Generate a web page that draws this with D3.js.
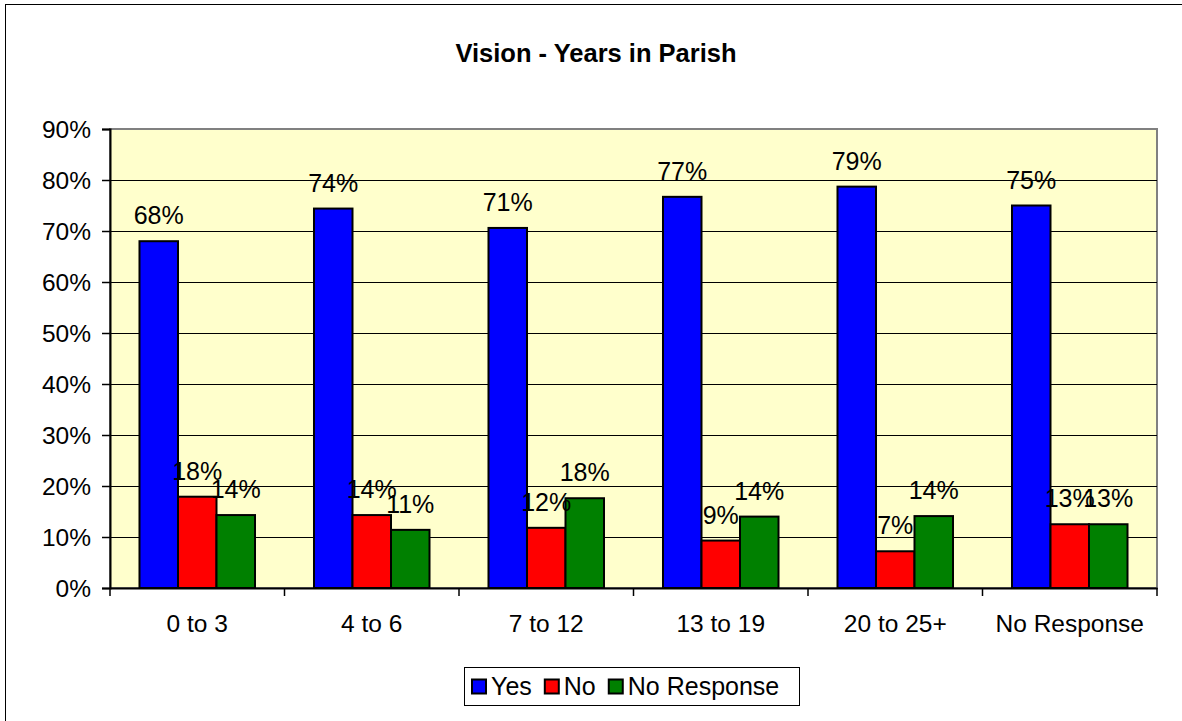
<!DOCTYPE html>
<html><head><meta charset="utf-8">
<script src="https://cdn.jsdelivr.net/npm/d3@7"></script>
<style>
html,body{margin:0;padding:0;background:#fff;}
svg{display:block;font-family:"Liberation Sans",Arial,sans-serif;}
</style></head>
<body>
<svg id="chart" width="1182" height="721"></svg>
<script>
const categories = ["0 to 3","4 to 6","7 to 12","13 to 19","20 to 25+","No Response"];
const seriesNames = ["Yes","No","No Response"];
const yesValues = [0.68,0.744,0.706,0.767,0.787,0.75];
const noValues = [0.179,0.143,0.118,0.093,0.072,0.125];
const noResponseValues = [0.143,0.114,0.176,0.140,0.141,0.125];
const yTicks = [0,0.1,0.2,0.3,0.4,0.5,0.6,0.7,0.8,0.9];
const colors = ["#0000FF","#FF0000","#008000"];
const title = "Vision - Years in Parish";

const seriesValues = [yesValues, noValues, noResponseValues];
const svg = d3.select("#chart");

svg.append("rect").attr("x",5.5).attr("y",4.5).attr("width",1200).attr("height",740)
  .attr("fill","#fff").attr("stroke","#000").attr("stroke-width",1);

const L=110, R=1157, T=129, B=588;
const x0 = d3.scaleBand().domain(categories).range([L,R]).padding(0);
const x1 = d3.scaleBand().domain(seriesNames).range([0,x0.bandwidth()]).paddingInner(0).paddingOuter(0.766);
const y = d3.scaleLinear().domain([0,0.9]).range([B,T]);

svg.append("rect").attr("x",L).attr("y",T).attr("width",R-L).attr("height",B-T)
  .attr("fill","#FFFFCC").attr("stroke","#808080").attr("stroke-width",2);

svg.append("g").selectAll("line").data(yTicks.filter(t=>t>0 && t<0.9)).join("line")
  .attr("x1",L).attr("x2",R).attr("y1",d=>Math.round(y(d))+0.5).attr("y2",d=>Math.round(y(d))+0.5)
  .attr("stroke","#000").attr("stroke-width",1);

const groups = svg.append("g").selectAll("g").data(categories).join("g")
  .attr("transform",d=>`translate(${x0(d)},0)`);
groups.selectAll("rect").data((d,i)=>seriesNames.map((s,j)=>({s,j,v:seriesValues[j][i]}))).join("rect")
  .attr("x",d=>x1(d.s)).attr("width",x1.bandwidth())
  .attr("y",d=>y(d.v)).attr("height",d=>B-y(d.v))
  .attr("fill",d=>colors[d.j]).attr("stroke","#000").attr("stroke-width",2);

groups.selectAll("text").data((d,i)=>seriesNames.map((s,j)=>({s,j,v:seriesValues[j][i]}))).join("text")
  .attr("x",d=>x1(d.s)+x1.bandwidth()/2).attr("y",d=>y(d.v)-17)
  .attr("text-anchor","middle").attr("font-size",25).attr("fill","#000")
  .text(d=>Math.round(d.v*100)+"%");

const yAxis = d3.axisLeft(y).tickValues(yTicks).tickFormat(d3.format(".0%")).tickSize(8).tickPadding(11);
const gy = svg.append("g").attr("transform",`translate(${L},0)`).call(yAxis);
gy.select(".domain").attr("stroke","#000").attr("stroke-width",2);
gy.selectAll(".tick line").attr("stroke","#000").attr("stroke-width",1.5);
gy.selectAll(".tick text").attr("font-size",24.5).attr("font-family","Liberation Sans, Arial, sans-serif").attr("fill","#000").attr("dy","0.35em");

const xAxis = d3.axisBottom(x0).tickSize(0).tickPadding(27);
const gx = svg.append("g").attr("transform",`translate(0,${B})`).call(xAxis);
gx.select(".domain").attr("stroke","#000").attr("stroke-width",2);
gx.selectAll(".tick text").attr("font-size",24.5).attr("font-family","Liberation Sans, Arial, sans-serif").attr("fill","#000");
svg.append("g").selectAll("line").data(categories.map(c=>x0(c)).concat([R])).join("line")
  .attr("x1",d=>d).attr("x2",d=>d).attr("y1",B).attr("y2",B+8)
  .attr("stroke","#000").attr("stroke-width",1.5);

svg.append("text").attr("x",596).attr("y",62).attr("text-anchor","middle")
  .attr("font-size",25.5).attr("font-weight","bold").text(title);

const lg = svg.append("g");
lg.append("rect").attr("x",464.5).attr("y",667.5).attr("width",335).attr("height",38)
  .attr("fill","#fff").attr("stroke","#000").attr("stroke-width",1);
let lx = 472;
seriesNames.forEach((s,i)=>{
  lg.append("rect").attr("x",lx).attr("y",679.5).attr("width",14).attr("height",14)
    .attr("fill",colors[i]).attr("stroke","#000").attr("stroke-width",2);
  const t = lg.append("text").attr("x",lx+19).attr("y",695).attr("font-size",25).text(s);
  lx += 19 + t.node().getComputedTextLength() + 13;
});
</script>
</body></html>
